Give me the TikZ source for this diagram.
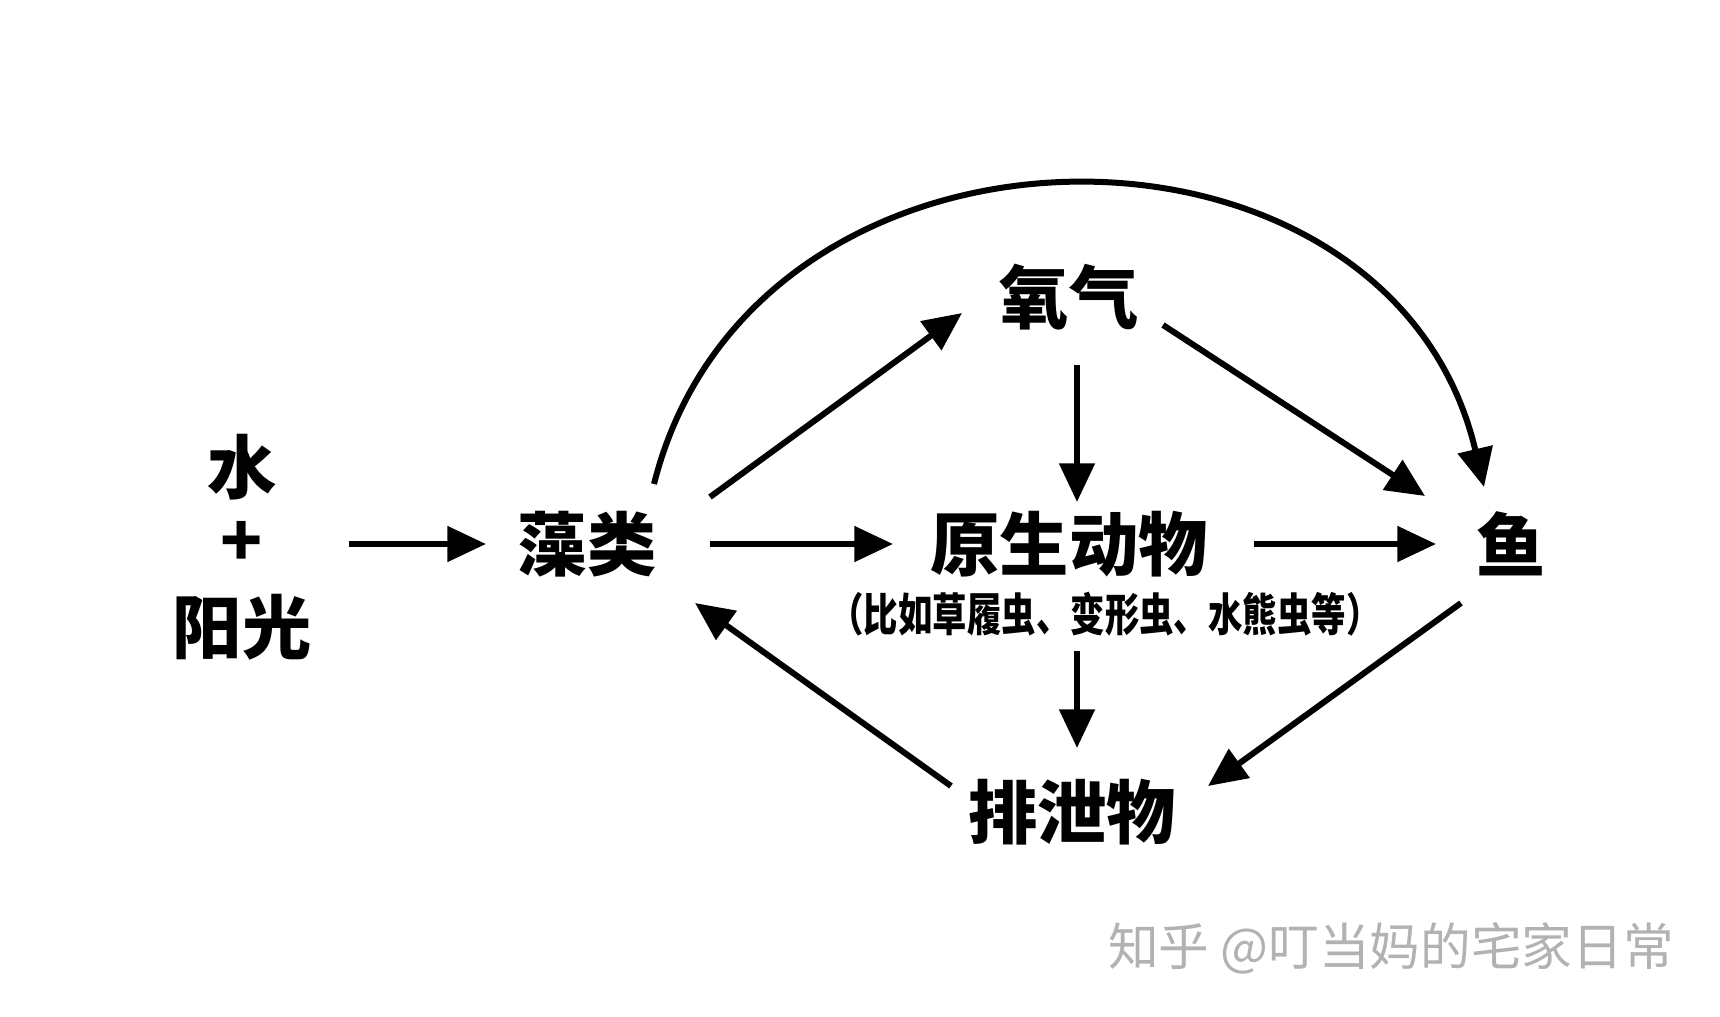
\documentclass[tikz,border=0pt]{standalone}
\usepackage{fontspec}
\usepackage{tikz}
\usetikzlibrary{arrows.meta}
\newfontfamily\cjk{Noto Sans CJK SC}
\newfontfamily\cjknarrow[FakeStretch=0.76]{Noto Sans CJK SC}

\begin{document}
\begin{tikzpicture}[x=0.75pt,y=0.75pt,yscale=-1,xscale=1,
  term/.style={inner sep=0pt,font=\cjk\bfseries\fontsize{52}{58}\selectfont},
  flow/.style={line width=4.5pt,-{Triangle[length=29pt,width=26pt]}}]
\useasboundingbox (0,0) rectangle (1720,1017);

%Text Nodes
\node [term] (water) at (242,467) {水};
\node [term] (plus) at (242,544) {+};
\node [term] (sun) at (242,627) {阳光};
\node [term] (algae) at (587,544) {藻类};
\node [term] (proto) at (1069,544) {原生动物};
\node [term] (fish) at (1511,544) {鱼};
\node [term] (oxygen) at (1069,297) {氧气};
\node [term] (waste) at (1072,812) {排泄物};
\node [inner sep=0pt,font=\cjknarrow\bfseries\fontsize{34}{40}\selectfont] (note) at (1105,614) {（比如草履虫、变形虫、水熊虫等）};
\node [inner sep=0pt,text={rgb,255:red,178;green,178;blue,178},font=\cjk\fontsize{38}{42}\selectfont] (wmark) at (1391,948) {知乎 @叮当妈的宅家日常};

%Straight Lines
\draw [flow] ([shift={(107,0)}]plus.center) -- ([shift={(-101,0)}]algae.center);
\draw [flow] ([shift={(123,0)}]algae.center) -- ([shift={(-176,0)}]proto.center);
\draw [flow] ([shift={(185,0)}]proto.center) -- ([shift={(-75,0)}]fish.center);
\draw [flow] ([shift={(123,-47)}]algae.center) -- ([shift={(-107,16)}]oxygen.center);
\draw [flow] ([shift={(8,68)}]oxygen.center) -- ([shift={(8,-42)}]proto.center);
\draw [flow] ([shift={(94,28)}]oxygen.center) -- ([shift={(-86,-48)}]fish.center);
\draw [flow] ([shift={(8,107)}]proto.center) -- ([shift={(5,-64)}]waste.center);
\draw [flow] ([shift={(-50,59)}]fish.center) -- ([shift={(136,-26)}]waste.center);
\draw [flow] ([shift={(-121,-26)}]waste.center) -- ([shift={(108,59)}]algae.center);

%Curve Lines
\draw [flow] ([shift={(67,-60)}]algae.center) .. controls +(100,-398) and +(-94,-400) .. ([shift={(-27,-57)}]fish.center);

\end{tikzpicture}
\end{document}
